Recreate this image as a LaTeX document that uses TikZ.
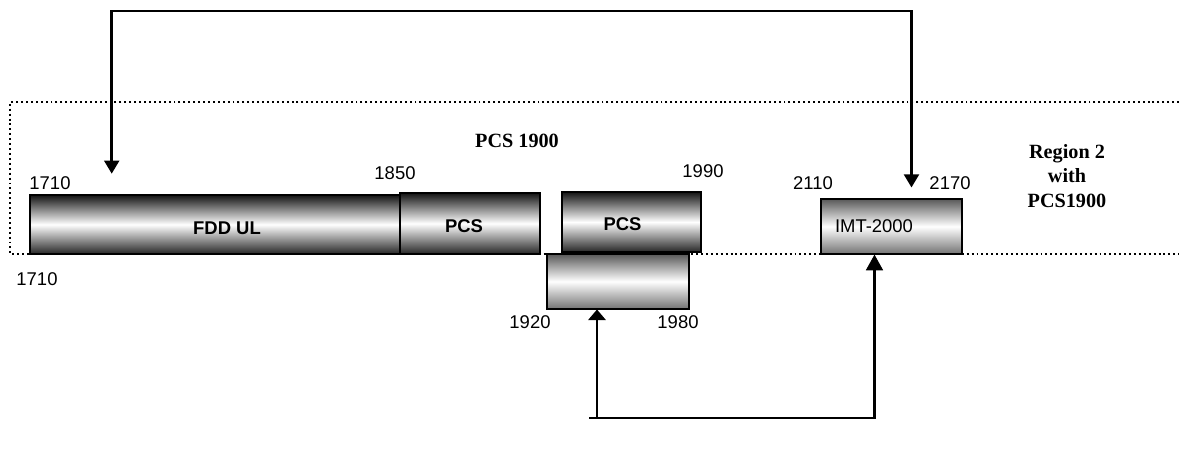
\documentclass[tikz,border=0pt]{standalone}
\usepackage{fontspec}
\setmainfont{Liberation Sans}
\newfontfamily\timesfont{Liberation Serif}
\usetikzlibrary{arrows.meta,calc}

\begin{document}
\begin{tikzpicture}[
    x=0.02cm, y=0.02cm,
    band/.style={draw, line width=1.5pt, inner sep=0pt,
        top color=black!92, bottom color=black!85, middle color=white},
    pale/.style={draw, line width=0.6pt, inner sep=0pt, font=\fontsize{10.5}{12.6}\selectfont,
        top color=black!65, bottom color=black!55, middle color=white},
    bandtext/.style={font=\fontsize{10.5}{12.6}\selectfont\bfseries, inner sep=0pt},
    freq/.style={font=\fontsize{10.5}{12.6}\selectfont, inner sep=0pt},
    title/.style={font=\timesfont\fontsize{11.5}{13.8}\selectfont\bfseries, align=center, inner sep=0pt},
    region/.style={dash pattern=on 1.1pt off 1.7pt, line width=1.1pt},
    wire/.style={line width=1.5pt},
    thinwire/.style={line width=0.8pt, -{Triangle[width=10pt,length=6pt]}}
]
\useasboundingbox (0,0) rectangle (1179,-475);

% Region frame
\draw[region] (1179,-102) -- (10,-102) -- (10,-254) -- (1179,-254);

% Bands
\node[band, minimum width=7.4cm, minimum height=1.18cm,
    label={[bandtext, xshift=0.24cm, yshift=-0.07cm]center:FDD UL}] (fdd) at (215,-224.5) {};
\node[band, minimum width=2.8cm, minimum height=1.22cm,
    label={[bandtext, xshift=-0.12cm, yshift=-0.05cm]center:PCS}] (pcsa) at (470,-223.5) {};
\node[pale, minimum width=2.84cm, minimum height=1.1cm] (lowband) at (618,-281.5) {};
\node[band, minimum width=2.78cm, minimum height=1.2cm,
    label={[bandtext, xshift=-0.18cm, yshift=-0.04cm]center:PCS}] (pcsb) at (631.5,-222) {};
\node[pale, minimum width=2.82cm, minimum height=1.1cm, text width=2.26cm, inner xsep=0.28cm, align=left] (imt) at (891.5,-226.5) {IMT-2000};

% Frequencies
\node[freq] (f1710a) at (50,-183) {1710};
\node[freq] (f1710b) at (37,-279) {1710};
\node[freq] (f1850) at (395,-173) {1850};
\node[freq] (f1990) at (703,-171) {1990};
\node[freq] (f1920) at (530,-322) {1920};
\node[freq] (f1980) at (678,-322) {1980};
\node[freq] (f2110) at (813,-183) {2110};
\node[freq] (f2170) at (950,-183) {2170};

% Titles
\node[title] (pcstitle) at (517,-141) {PCS 1900};
\node[title] (regiontitle) at (1067,-176) {Region 2\\with\\PCS1900};

% Connectors
\coordinate (overhead) at (500,-11);
\coordinate (feed) at (589,-418);
\coordinate (split) at (597,-418);
\draw[wire, {Triangle[width=8.5pt,length=7.5pt]}-{Triangle[width=8.5pt,length=7.5pt]}]
    ($(fdd.north west)+(83,20)$) |- (overhead) -| ($(imt.north west)+(91,11)$);
\draw[wire, -{Triangle[width=9.5pt,length=9pt]}] (feed) -| ($(imt.south west)+(54,0)$);
\draw[thinwire] (split) -- (split |- lowband.south);
\end{tikzpicture}
\end{document}
